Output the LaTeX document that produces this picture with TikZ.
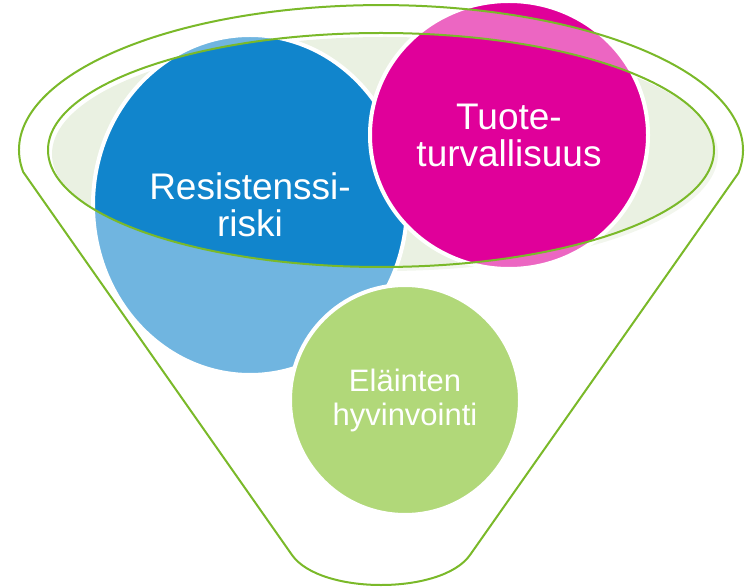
\documentclass[tikz,border=0pt]{standalone}
\usepackage{fontspec}
\setmainfont{Liberation Sans}
\usetikzlibrary{shapes.geometric}
\definecolor{riskblue}{RGB}{17,133,204}
\definecolor{safepink}{RGB}{224,0,154}
\definecolor{welfaregreen}{RGB}{125,190,33}
\definecolor{funnelgreen}{RGB}{122,185,41}
\definecolor{bowlfill}{RGB}{234,241,226}

\begin{document}
\begin{tikzpicture}[
					x=1pt, y=1pt,
					bubble/.style={ellipse, draw=white, line width=4pt, inner sep=0pt},
					caption/.style={white, align=center, font=\fontsize{37}{37}\selectfont},
					rim/.style={draw=funnelgreen, line width=2pt}
				]
					\useasboundingbox (0,0) rectangle (746,587);
					\fill[bowlfill] (385,433) ellipse [x radius=333, y radius=117];
					\node[bubble, fill=riskblue, minimum width=314pt, minimum height=340pt] (riski) at (250,382) {};
					\node[bubble, fill=safepink, minimum width=278pt, minimum height=268pt] (tuote) at (509,452) {};
					\node[bubble, fill=welfaregreen, minimum width=230pt, minimum height=230pt] (elain) at (405,187) {};
					\coordinate (kinkL) at (23.2,415);
					\coordinate (tipL) at (292,32);
					\coordinate (tipR) at (470,32);
					\fill[white, fill opacity=0.4, even odd rule] (tipL) -- (kinkL) arc[start angle=188.7, end angle=-9.1, x radius=362, y radius=145] -- (tipR) .. controls (442,-8) and (320,-8) .. (tipL) -- cycle (381,437) ellipse [x radius=333, y radius=117];
					\draw[rim, line join=round] (tipL) -- (kinkL) arc[start angle=188.7, end angle=-9.1, x radius=362, y radius=145] -- (tipR) .. controls (442,-8) and (320,-8) .. (tipL) -- cycle;
					\draw[rim] (381,437) ellipse [x radius=333, y radius=117];
					\node[caption] (riskiText) at (riski.center) {Resistenssi-\\riski};
					\node[caption] (tuoteText) at (tuote.center) {Tuote-\\turvallisuus};
					\node[caption, font=\fontsize{31}{34}\selectfont] (elainText) at (elain.center) {Eläinten\\hyvinvointi};
				\end{tikzpicture}
\end{document}
